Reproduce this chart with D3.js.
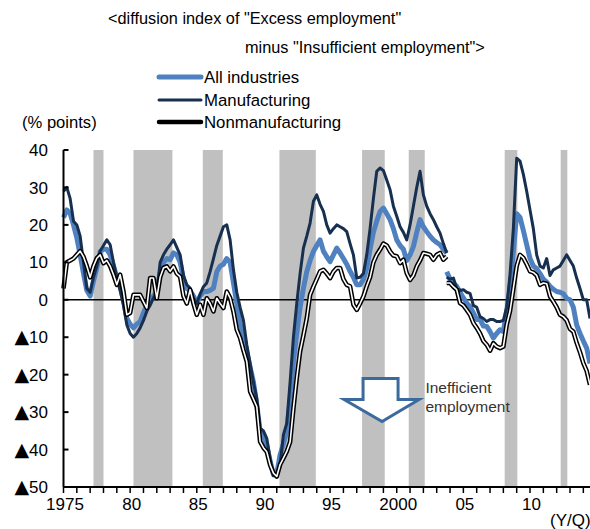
<!DOCTYPE html>
<html>
<head>
<meta charset="utf-8">
<script src="https://cdn.jsdelivr.net/npm/d3@7"></script>
<style>
  body { margin: 0; background: #fff; }
  svg text { font-family: "Liberation Sans", Arial, sans-serif; fill: #000; }
</style>
</head>
<body>
<div id="chart"></div>
<script>
// quarterly, old survey basis 1975Q1 - 2003Q4
const startYear = 1975;
const allOld = [
  22, 24, 23, 20,  16.5, 12, 7, 2.5,  1, 5, 8.5, 12.9,  13.5, 13.5, 12, 9,
  6, 3.5, 0, -4.9,  -6.5, -7.5, -6.5, -5.8,  -3.5, -1.3, 0, 1,  2.2, 7, 10, 11,
  10.7, 12.5, 12, 10,  5.5, 3, 2.5, 1,  -1, 1, 2.2, 2.2,  2.5, 3.1, 7.5, 9,
  9.5, 11, 10, 4.5,  -1, -6.5, -10, -13.8,  -18, -22, -28, -35,  -36.5, -39, -43, -46.7,
  -46.5, -41.4, -38.5, -35,  -27, -16.5, -9, -2,  3.1, 7.5, 10.5, 12.9,  14.5, 16, 13, 11.5,
  10.2, 12, 13.8, 12.5,  11, 9.5, 7.6, 6,  4, 4, 5.5, 8.5,  13.5, 18, 21, 23.6,
  24.5, 23, 21.4, 19,  16, 14.5, 13.5, 10.5,  12, 14.2, 18, 21.4,  19.5, 18.2, 17, 16,
  15.3, 14.7, 13.5, 12.5
];
const mfgOld = [
  29, 30, 27, 21,  20, 17, 10, 3,  2, 6, 9, 13,  14.5, 16, 14.7, 10,
  6, 2.5, -1.5, -6.7,  -9, -10, -9, -7.5,  -5.5, -3.1, -1.5, 0.5,  2.2, 10, 12, 13.5,
  14.7, 16, 14, 12,  6.5, 4, 3.1, 0.5,  -1, 1.5, 3.5, 4.5,  7.5, 11, 14.5, 17,
  19.5, 20, 16, 8,  2, -2, -5.5, -12,  -17, -22, -26.3, -34.3,  -35, -37, -42.3, -47,
  -46.5, -44, -36, -33,  -22, -10, -1, 7,  13.8, 17, 20.5, 26.3,  28, 25.5, 23.6, 20,
  17.8, 19, 20, 19.5,  19, 18.2, 15, 12,  5.8, 6, 7, 12,  19, 27, 34.3, 35.2,
  34.5, 32, 29.4, 25,  22.3, 19.5, 18, 16,  20, 25, 30, 34.3,  28, 25, 23, 21.4,
  19.5, 17.8, 15, 12.5
];
const nonOld = [
  3, 10, 10.5, 11,  12, 13, 11.5, 9,  6, 9, 11.1, 12,  9.8, 10.5, 9, 6.7,
  4, 6.7, 2.2, -4,  -3.5, 1.3, 1.3, 1.3,  -0.5, -2.2, 5.8, 5.8,  0.4, 6, 8.5, 8.9,
  7.6, 8.9, 7, 6.2,  1, -1, 2.7, -1,  -4, -1.3, -4, 0.4,  -1, -3.1, 0.4, -1,
  -2.2, 2.2, 0.5, -3.1,  -8, -10.2, -13.5, -16.5,  -24.5, -26.5, -28.5, -37.9,  -39.5, -40.6, -44.1, -46.3,
  -47.2, -44, -42.3, -40.5,  -38, -29, -20.9, -13.8,  -9.5, -5, 1.3, 3.5,  5.5, 7.6, 8, 7,
  5.8, 7.5, 8.5, 8.5,  5.5, 4, 3.6, -1.3,  -2.7, -1, 0.9, 3.6,  6, 10, 12, 13.4,
  15, 14.5, 12.9, 11.8,  11.6, 9.8, 10.7, 7.1,  5.3, 6.5, 8.9, 10.5,  12.5, 12.3, 12, 10.7,
  12, 12.5, 10.7, 11.6
];
// new survey basis 2003Q4 - 2014Q3
const newStart = 115;
const allNew = [
  7.5,
  5.5, 4.5, 3.6, 2,  0.5, -0.9, -1.8, -3.5,  -5.3, -5.3, -7, -7.1,  -8.5, -10.2, -9, -8,
  -8.5, -3, 3, 12.9,  23, 22, 18.5, 14.7,  11, 9, 8.3, 7,  5.5, 4.7, 3.6, 2.8,
  2.2, 2, 1.6, 0.4,  0, -2, -6.7, -9,  -11, -12.9, -17
];
const mfgNew = [
  6,
  5.5, 5.8, 3, 2.5,  2.7, 2, 1.7, -1.5,  -2, -4.5, -5, -5.8,  -5.3, -5.3, -5.8, -5.8,
  -5.5, -2, 6.7, 19,  37.8, 37, 33.5, 29,  24, 19, 12, 9,  8.5, 11, 6.5, 8,
  8.5, 9, 10.5, 12,  10.5, 9, 5.8, 3,  0, 0, -5
];
const nonNew = [
  4.5,
  4.5, 3.5, 2.7, -0.9,  -1.5, -2.7, -4, -6.2,  -7.5, -9, -11, -12,  -13.6, -11.6, -12.5, -12.9,
  -12.5, -6.7, -3, 3,  9, 12, 11.2, 9.5,  7.6, 7.3, 6.5, 4,  4.5, 4.3, 0.9, -0.5,
  -2, -4, -4.5, -5.5,  -7.8, -8.5, -11.5, -14,  -16.9, -19, -22.7
];
// recession periods (shaded)
const recessions = [
  [1977.25, 1978.0], [1980.25, 1983.17], [1985.45, 1986.95], [1991.2, 1993.93],
  [1997.4, 1999.1], [2000.9, 2002.1], [2008.1, 2009.05], [2012.3, 2012.8]
];
const yTicks = [40, 30, 20, 10, 0, -10, -20, -30, -40, -50];
const xLabelYears = [1975, 1980, 1985, 1990, 1995, 2000, 2005, 2010];
const xLabels = ["1975", "80", "85", "90", "95", "2000", "05", "10"];
const legendNames = ["All industries", "Manufacturing", "Nonmanufacturing"];

const W = 590, H = 529;
const blue = "#4f81c0", navy = "#17304f", arrowBlue = "#3d6a9c";

const svg = d3.select("#chart").append("svg")
  .attr("width", W)
  .attr("height", H);

const x = d3.scaleLinear().domain([1975, 2014.5]).range([63.5, 590]);
const y = d3.scaleLinear().domain([-50, 40]).range([487, 150]);

//== shaded bands ==//
svg.selectAll("rect.rec")
  .data(recessions)
  .enter()
  .append("rect")
  .attr("class", "rec")
  .attr("x", d => x(d[0]))
  .attr("y", y(40))
  .attr("width", d => x(d[1]) - x(d[0]))
  .attr("height", y(-50) - y(40))
  .style("fill", "#c0c0c0");

//== zero line ==//
svg.append("line")
  .attr("x1", x(1975)).attr("x2", W)
  .attr("y1", y(0)).attr("y2", y(0))
  .style("stroke", "#000").style("stroke-width", 1.5);

//== series ==//
function toPoints(arr, offset) {
  return arr.map((v, i) => ({ t: startYear + (offset + i) / 4, v: v }));
}
const line = d3.line().x(d => x(d.t)).y(d => y(d.v));

function drawSeries(arr, offset, styles) {
  const pts = toPoints(arr, offset);
  styles.forEach(s => {
    svg.append("path")
      .datum(pts)
      .attr("d", line)
      .style("fill", "none")
      .style("stroke", s[0])
      .style("stroke-width", s[1])
      .style("stroke-linejoin", "round")
      .style("stroke-linecap", "butt");
  });
}
const allStyle = [[blue, 5]];
const mfgStyle = [[navy, 3]];
const nonStyle = [["#000", 4.6], ["#fff", 1.6]];

drawSeries(allOld, 0, allStyle);
drawSeries(allNew, newStart, allStyle);
drawSeries(mfgOld, 0, mfgStyle);
drawSeries(mfgNew, newStart, mfgStyle);
drawSeries(nonOld, 0, nonStyle);
drawSeries(nonNew, newStart, nonStyle);

//== y axis ==//
svg.append("line")
  .attr("x1", x(1975)).attr("x2", x(1975))
  .attr("y1", y(40)).attr("y2", y(-50))
  .style("stroke", "#000").style("stroke-width", 2);
svg.selectAll("line.ytick")
  .data(yTicks)
  .enter()
  .append("line")
  .attr("x1", x(1975)).attr("x2", x(1975) + 5)
  .attr("y1", d => y(d)).attr("y2", d => y(d))
  .style("stroke", "#000").style("stroke-width", 2);
const ylab = svg.selectAll("text.ylab")
  .data(yTicks)
  .enter()
  .append("text")
  .attr("x", 48)
  .attr("y", d => y(d))
  .attr("dy", "0.36em")
  .attr("text-anchor", "end")
  .style("font-size", "17px");
ylab.filter(d => d < 0).append("tspan")
  .style("font-size", "19px")
  .style("font-family", "'DejaVu Sans', sans-serif")
  .text("\u25B2");
ylab.append("tspan").text(d => Math.abs(d));

//== x axis ==//
svg.append("line")
  .attr("x1", x(1975)).attr("x2", W)
  .attr("y1", y(-50)).attr("y2", y(-50))
  .style("stroke", "#000").style("stroke-width", 2);
svg.selectAll("line.xtick")
  .data(d3.range(1975, 2015))
  .enter()
  .append("line")
  .attr("x1", d => x(d)).attr("x2", d => x(d))
  .attr("y1", y(-50)).attr("y2", y(-50) + 6)
  .style("stroke", "#000").style("stroke-width", 1.5);
svg.selectAll("text.xlab")
  .data(xLabelYears)
  .enter()
  .append("text")
  .attr("x", d => x(d) + 1.5)
  .attr("y", 510)
  .attr("text-anchor", "middle")
  .style("font-size", "17px")
  .text((d, i) => xLabels[i]);
svg.append("text")
  .attr("x", 550).attr("y", 526)
  .style("font-size", "17px")
  .text("(Y/Q)");

//== titles ==//
svg.append("text").attr("x", 108).attr("y", 24)
  .style("font-size", "16.3px")
  .text('<diffusion index of "Excess employment"');
svg.append("text").attr("x", 245).attr("y", 53)
  .style("font-size", "16.3px")
  .text('minus "Insufficient employment">');
svg.append("text").attr("x", 22).attr("y", 128)
  .style("font-size", "16.6px")
  .text("(% points)");

//== legend ==//
const legendColors = [[blue, 5], [navy, 3], ["#000", 4.5]];
const legY = [77, 100, 122];
legendNames.forEach((name, i) => {
  svg.append("line")
    .attr("x1", 159).attr("x2", 201)
    .attr("y1", legY[i]).attr("y2", legY[i])
    .style("stroke", legendColors[i][0])
    .style("stroke-width", legendColors[i][1])
    .style("stroke-linecap", "round");
  svg.append("text")
    .attr("x", 204).attr("y", legY[i])
    .attr("dy", "0.36em")
    .style("font-size", "16.8px")
    .text(name);
});

//== arrow annotation ==//
const tipX = x(1998.9), tipY = y(-32.5);
const arrowPts = [
  [-19, -43], [16, -43], [16, -22], [37, -22], [0, 0], [-38, -22], [-19, -22]
];
svg.append("polygon")
  .attr("points", arrowPts.map(p => [tipX + p[0], tipY + p[1]].join(",")).join(" "))
  .style("fill", "#fff")
  .style("stroke", arrowBlue)
  .style("stroke-width", 3)
  .style("stroke-linejoin", "miter");
svg.append("text").attr("x", x(2002.15)).attr("y", 393)
  .style("font-size", "15.5px").style("fill", "#333")
  .text("Inefficient");
svg.append("text").attr("x", x(2002.15)).attr("y", 412)
  .style("font-size", "15.5px").style("fill", "#333")
  .text("employment");
</script>
</body>
</html>
